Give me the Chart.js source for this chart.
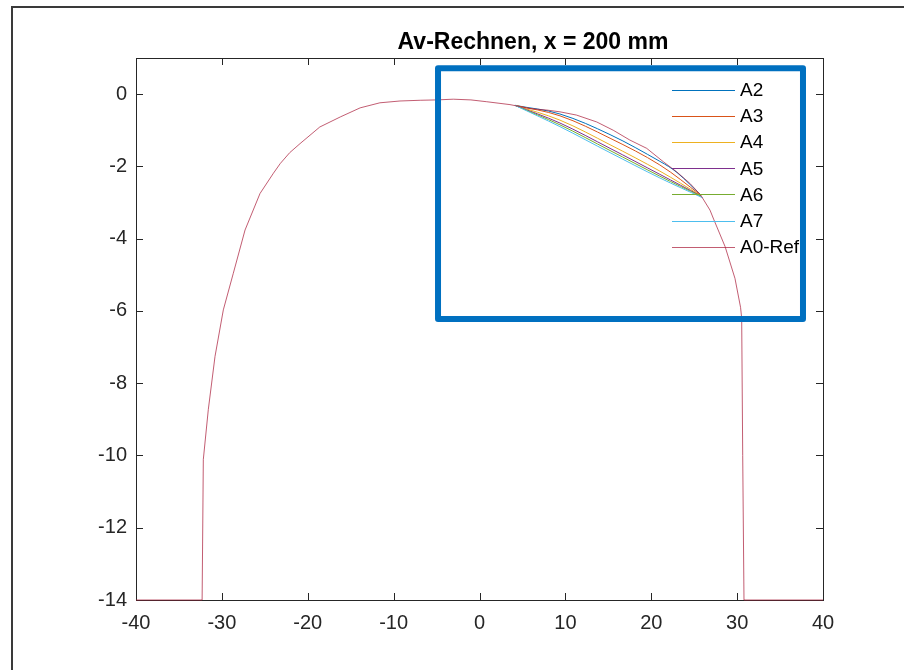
<!DOCTYPE html>
<html>
<head>
<meta charset="utf-8">
<title>Av-Rechnen, x = 200 mm</title>
<script src="https://cdn.jsdelivr.net/npm/chart.js@4.4.1/dist/chart.umd.min.js"></script>
<style>
  html, body { margin: 0; padding: 0; background: #fff; }
  #wrap { position: relative; width: 904px; height: 670px; overflow: hidden; }
  #frame { position: absolute; left: 11px; top: 6px; width: 910px; height: 680px;
           border-left: 2px solid #3a3a3a; border-top: 2px solid #3a3a3a; }
  #chart { position: absolute; left: 0; top: 0; }
</style>
</head>
<body>
<div id="wrap">
  <div id="frame"></div>
  <canvas id="chart" width="904" height="670"></canvas>
</div>
<script>
// Achsen
const X_TICKS = [-40, -30, -20, -10, 0, 10, 20, 30, 40];
const Y_TICKS = [-14, -12, -10, -8, -6, -4, -2, 0];
const X_MIN = -40, X_MAX = 40, Y_MIN = -14, Y_MAX = 1;
const TITLE = 'Av-Rechnen, x = 200 mm';

// Referenzkontur A0-Ref
const REF_X = [-40, -32.3, -32.16, -31.58, -30.8, -29.83, -28.67, -27.3, -25.56, -24.0, -23.2, -22.1, -20.9,
  -18.6, -16.2, -13.9, -11.6, -9.26, -6.9, -5.0, -3.05, -1.0, 0.84, 3.55, 5.88, 7.83, 9.37, 11.3, 13.65,
  15.58, 17.5, 19.47, 21.4, 22.96, 24.5, 25.75, 26.84, 27.3, 28.6, 29.75, 30.4, 30.53, 30.65, 30.8, 40];
const REF_Y = [-14, -14, -10.11, -8.73, -7.26, -5.97, -4.96, -3.76, -2.75, -2.19, -1.92, -1.62, -1.37,
  -0.91, -0.63, -0.38, -0.24, -0.19, -0.17, -0.16, -0.14, -0.16, -0.21, -0.29, -0.40, -0.44, -0.49, -0.58, -0.77,
  -1.00, -1.27, -1.50, -1.87, -2.15, -2.47, -2.79, -3.21, -3.48, -4.22, -5.10, -5.90, -6.20, -10.0, -14, -14];

// Varianten A2..A7 (Abschnitt, der von der Referenz abweicht)
const A2_X = [4.13, 9.37, 15.2, 21.0, 23.0, 25.8];
const A2_Y = [-0.31, -0.55, -1.12, -1.86, -2.17, -2.80];
const A3_X = [4.13, 9.37, 15.2, 21.0, 25.8];
const A3_Y = [-0.31, -0.60, -1.22, -1.96, -2.80];
const A4_X = [4.13, 9.37, 15.2, 21.0, 25.8];
const A4_Y = [-0.31, -0.72, -1.40, -2.13, -2.81];
const A5_X = [4.13, 9.37, 15.2, 21.0, 25.8];
const A5_Y = [-0.31, -0.80, -1.50, -2.22, -2.82];
const A6_X = [4.13, 9.37, 15.2, 21.0, 25.8];
const A6_Y = [-0.31, -0.85, -1.56, -2.27, -2.83];
const A7_X = [4.13, 9.37, 15.2, 21.0, 26.0];
const A7_Y = [-0.31, -0.90, -1.62, -2.32, -2.87];

// Markierungsrahmen (Datenkoordinaten)
const BOX_X = [-4.83, 37.67];
const BOX_Y = [0.715, -6.22];

const FONT = "'Liberation Sans', Arial, sans-serif";
const AXIS_COLOR = '#262626';

const pts = (xs, ys) => xs.map((x, i) => ({ x, y: ys[i] }));

const SERIES = [
  { label: 'A2', color: '#0072BD', data: pts(A2_X, A2_Y) },
  { label: 'A3', color: '#D95319', data: pts(A3_X, A3_Y) },
  { label: 'A4', color: '#EDB120', data: pts(A4_X, A4_Y) },
  { label: 'A5', color: '#7E2F8E', data: pts(A5_X, A5_Y) },
  { label: 'A6', color: '#77AC30', data: pts(A6_X, A6_Y) },
  { label: 'A7', color: '#4DBEEE', data: pts(A7_X, A7_Y) },
  { label: 'A0-Ref', color: 'rgba(170,30,60,0.72)', data: pts(REF_X, REF_Y) },
];

// Achsenbox, Ticks nach innen, Titel, Legende, blauer Rahmen
const matlabLook = {
  id: 'matlabLook',
  beforeDatasetsDraw(chart) {
    const { ctx, chartArea: a, scales: { x, y } } = chart;
    ctx.save();
    ctx.strokeStyle = AXIS_COLOR;
    ctx.lineWidth = 1;
    ctx.strokeRect(a.left + 0.5, a.top + 0.5, a.right - a.left, a.bottom - a.top);
    ctx.beginPath();
    x.ticks.forEach(t => {
      const px = Math.round(x.getPixelForValue(t.value)) + 0.5;
      ctx.moveTo(px, a.bottom); ctx.lineTo(px, a.bottom - 7);
      ctx.moveTo(px, a.top); ctx.lineTo(px, a.top + 7);
    });
    y.ticks.forEach(t => {
      const py = Math.round(y.getPixelForValue(t.value)) + 0.5;
      ctx.moveTo(a.left, py); ctx.lineTo(a.left + 7, py);
      ctx.moveTo(a.right, py); ctx.lineTo(a.right - 7, py);
    });
    ctx.stroke();

    ctx.fillStyle = '#000';
    ctx.font = `bold 23px ${FONT}`;
    ctx.textAlign = 'center';
    ctx.textBaseline = 'alphabetic';
    ctx.fillText(TITLE, 533, 49);
    ctx.restore();
  },
  afterDatasetsDraw(chart) {
    const { ctx, scales: { x, y } } = chart;
    ctx.save();
    // Legende (ohne Rahmen)
    ctx.font = `19px ${FONT}`;
    ctx.textAlign = 'left';
    ctx.textBaseline = 'middle';
    chart.data.datasets.forEach((ds, i) => {
      const ry = 90 + i * 26.1;
      ctx.strokeStyle = ds.borderColor;
      ctx.lineWidth = 1;
      ctx.beginPath();
      ctx.moveTo(672, Math.round(ry) + 0.5);
      ctx.lineTo(735, Math.round(ry) + 0.5);
      ctx.stroke();
      ctx.fillStyle = '#000';
      ctx.fillText(ds.label, 740, ry + 1);
    });

    // blauer Rahmen
    const l = x.getPixelForValue(BOX_X[0]), r = x.getPixelForValue(BOX_X[1]);
    const t = y.getPixelForValue(BOX_Y[0]), b = y.getPixelForValue(BOX_Y[1]);
    ctx.strokeStyle = '#0070C0';
    ctx.lineWidth = 6;
    ctx.lineJoin = 'round';
    ctx.strokeRect(l, t, r - l, b - t);
    ctx.restore();
  },
};

new Chart(document.getElementById('chart'), {
  type: 'scatter',
  data: {
    datasets: SERIES.map((s, i) => ({
      label: s.label,
      data: s.data,
      showLine: true,
      borderColor: s.color,
      backgroundColor: s.color,
      borderWidth: 1,
      pointRadius: 0,
      tension: s.label === 'A0-Ref' ? 0 : 0.35,
      order: SERIES.length - i,
      clip: 2,
    })),
  },
  options: {
    responsive: false,
    animation: false,
    events: [],
    layout: { padding: { top: 58, right: 81, bottom: 0, left: 0 } },
    plugins: { legend: { display: false }, tooltip: { enabled: false }, title: { display: false } },
    scales: {
      x: {
        type: 'linear', min: X_MIN, max: X_MAX,
        afterBuildTicks: s => { s.ticks = X_TICKS.map(v => ({ value: v })); },
        afterFit: s => { s.height = 70; },
        grid: { display: false }, border: { display: false },
        ticks: { font: { family: FONT, size: 20 }, color: AXIS_COLOR, padding: 3, maxRotation: 0 },
      },
      y: {
        type: 'linear', min: Y_MIN, max: Y_MAX,
        afterBuildTicks: s => { s.ticks = Y_TICKS.map(v => ({ value: v })); },
        afterFit: s => { s.width = 136; },
        grid: { display: false }, border: { display: false },
        ticks: { font: { family: FONT, size: 20 }, color: AXIS_COLOR, padding: 1 },
      },
    },
  },
  plugins: [matlabLook],
});
</script>
</body>
</html>
